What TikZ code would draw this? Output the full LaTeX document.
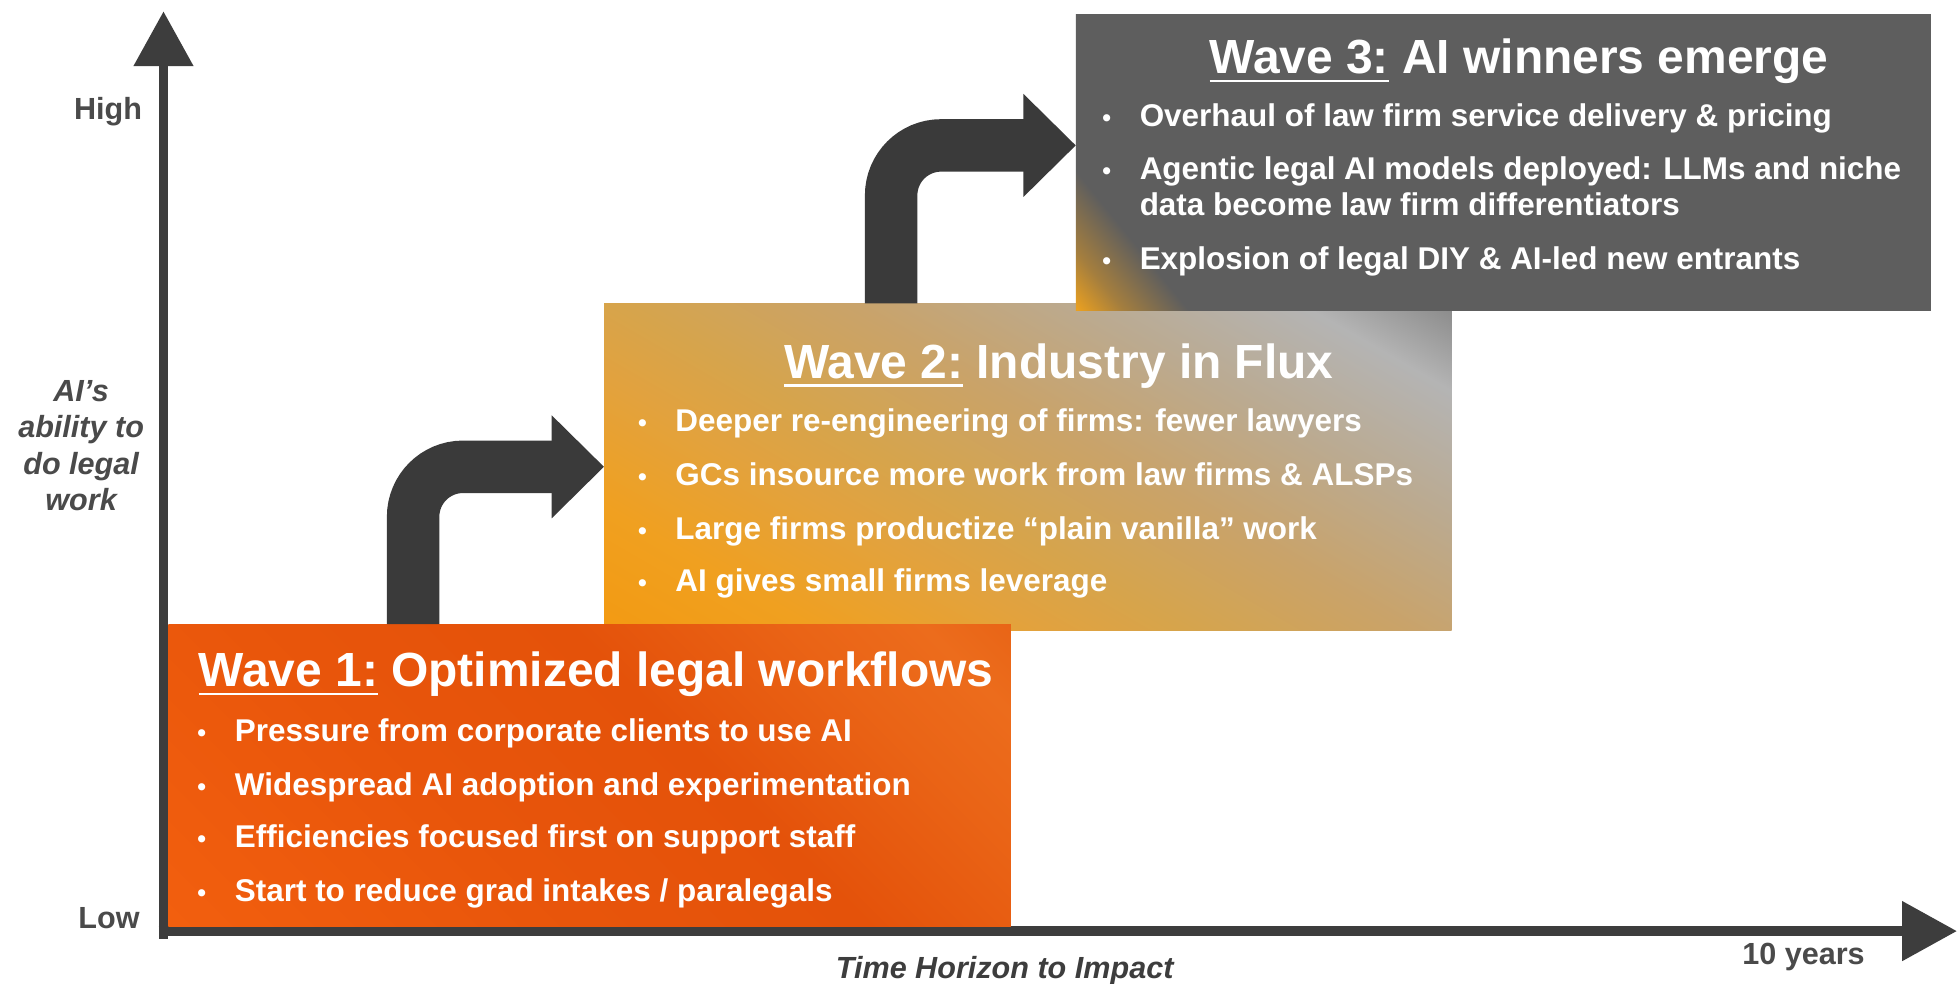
\documentclass[tikz,border=0pt]{standalone}
\usepackage{fontspec}
\setmainfont{Liberation Sans}
\usetikzlibrary{arrows.meta,calc}
\definecolor{axisc}{HTML}{3D3D3D}
\definecolor{arrc}{HTML}{3A3A3A}
\definecolor{labc}{HTML}{4A4A4A}
\definecolor{w1a}{HTML}{F25F0E}
\definecolor{w1b}{HTML}{E8550B}
\definecolor{w1c}{HTML}{E4520A}
\definecolor{w1d}{HTML}{EA6416}
\definecolor{w1e}{HTML}{EC6C1C}
\definecolor{w1f}{HTML}{E86416}
\definecolor{w2a}{HTML}{F39A12}
\definecolor{w2b}{HTML}{F0A020}
\definecolor{w2c}{HTML}{E2A23E}
\definecolor{w2d}{HTML}{D6A44C}
\definecolor{w2e}{HTML}{C9A36A}
\definecolor{w2f}{HTML}{BBAA90}
\definecolor{w2g}{HTML}{B4B4B4}
\definecolor{w2h}{HTML}{8A8A8A}
\definecolor{w3a}{HTML}{EAA020}
\definecolor{w3m}{HTML}{A47E3E}
\definecolor{w3b}{HTML}{5E5E5E}
\pgfdeclarehorizontalshading{wone}{100bp}{color(0bp)=(w1a); color(14.6bp)=(w1a); color(40bp)=(w1b); color(58bp)=(w1c); color(72bp)=(w1d); color(80bp)=(w1e); color(86bp)=(w1f); color(100bp)=(w1f)}
\pgfdeclarehorizontalshading{wtwo}{100bp}{color(0bp)=(w2a); color(15.8bp)=(w2a); color(26bp)=(w2b); color(37bp)=(w2c); color(44bp)=(w2d); color(55bp)=(w2e); color(66bp)=(w2f); color(77bp)=(w2g); color(84.2bp)=(w2h); color(100bp)=(w2h)}
\pgfdeclarehorizontalshading{wthree}{100bp}{color(0bp)=(w3a); color(14.8bp)=(w3a); color(17.8bp)=(w3m); color(22bp)=(w3b); color(100bp)=(w3b)}
\newcommand\ftitle{\fontsize{38.4}{42}\selectfont\bfseries}
\newcommand\fitem{\fontsize{25.2}{30}\selectfont\bfseries}
\newcommand\flab{\fontsize{24.5}{29}\selectfont\bfseries}
\newcommand\blt{\makebox[30pt][l]{\fontsize{20}{20}\selectfont •}}
\newcommand\wul[1]{\leavevmode\setbox0=\hbox{#1}\rlap{\rule[-7pt]{\wd0}{2pt}}\box0\relax}
\begin{document}
\begin{tikzpicture}[x=1pt,y=-1pt,
  wbox/.style={rectangle, inner sep=0pt, outer sep=0pt, anchor=north west, draw=none, shade},
  bigarrow/.style={draw=arrc, line width=42pt, rounded corners=40pt, -{Triangle[length=42pt,width=80pt]}},
  axisline/.style={draw=axisc, line width=8pt, -{Triangle[length=44pt,width=46pt]}},
  ttl/.style={font=\ftitle, text=white, anchor=base west, inner sep=0pt},
  itm/.style={font=\fitem, text=white, anchor=base west, inner sep=0pt},
  lab/.style={font=\flab, text=labc, inner sep=0pt},
  ylab/.style={font=\flab\itshape, text=labc, inner sep=0pt, align=center},
  xlab/.style={font=\flab\itshape, text=axisc, inner sep=0pt, anchor=base}
]
\useasboundingbox (0,0) rectangle (1568,788);
\fill[white] (0,0) rectangle (1568,788);
% axes
\coordinate (ybot) at (131,752);
\coordinate (ytop) at (131,9);
\coordinate (xleft) at (127,746);
\coordinate (xright) at (1568,746);
\draw[axisline] (ybot) -- (ytop);
\draw[axisline] (xleft) -- (xright);
% boxes
\node[wbox, shading=wtwo, shading angle=60, minimum width=679pt, minimum height=262pt] (w2) at (484,243) {};
\node[wbox, shading=wthree, shading angle=39, minimum width=685pt, minimum height=237pt] (w3) at (862,12) {};
\node[wbox, shading=wone, shading angle=45, minimum width=675pt, minimum height=242pt] (w1) at (135,500) {};
% bent arrows
\draw[bigarrow] ($(w1.north west)+(196,0)$) |- (w2.west);
\draw[bigarrow] ($(w2.north west)+(230,0)$) |- ($(w3.west)+(0,-14)$);
% wave 1
\node[ttl] (t1) at (159,550) {\wul{Wave 1:} Optimized legal workflows};
\node[itm] (b11) at (158,594) {\blt Pressure from corporate clients to use AI};
\node[itm] (b12) at (158,637) {\blt Widespread AI adoption and experimentation};
\node[itm] (b13) at (158,679) {\blt Efficiencies focused first on support staff};
\node[itm] (b14) at (158,722) {\blt Start to reduce grad intakes / paralegals};
% wave 2
\node[ttl] (t2) at (628,303) {\wul{Wave 2:} Industry in Flux};
\node[itm] (b21) at (511,346) {\blt Deeper re-engineering of firms: fewer lawyers};
\node[itm] (b22) at (511,389) {\blt GCs insource more work from law firms \& ALSPs};
\node[itm] (b23) at (511,432) {\blt Large firms productize “plain vanilla” work};
\node[itm] (b24) at (511,474) {\blt AI gives small firms leverage};
% wave 3
\node[ttl] (t3) at (969,59) {\wul{Wave 3:} AI winners emerge};
\node[itm] (b31) at (883,101) {\blt Overhaul of law firm service delivery \& pricing};
\node[itm] (b32) at (883,144) {\blt Agentic legal AI models deployed: LLMs and niche};
\node[itm] (b32b) at (913,173) {data become law firm differentiators};
\node[itm] (b33) at (883,216) {\blt Explosion of legal DIY \& AI-led new entrants};
% axis labels
\node[lab, anchor=base east] (high) at (114,96) {High};
\node[lab, anchor=base east] (low) at (112,744) {Low};
\node[ylab] (yl) at (65,357) {AI’s\\ability to\\do legal\\work};
\node[xlab] (xl) at (805,784) {Time Horizon to Impact};
\node[lab, anchor=base] (ten) at (1445,773) {10 years};
\end{tikzpicture}
\end{document}
